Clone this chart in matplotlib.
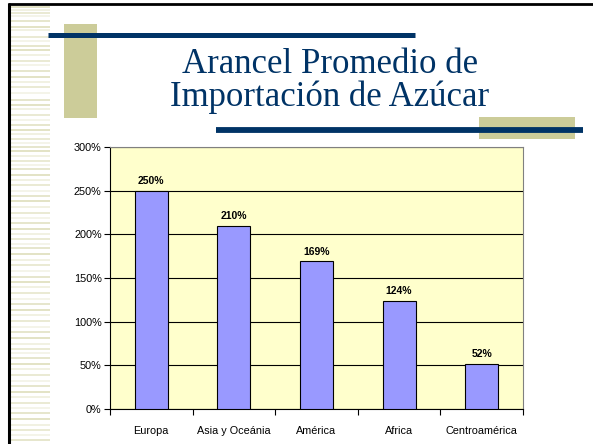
import matplotlib
matplotlib.use("Agg")
import matplotlib.pyplot as plt
from matplotlib.patches import Rectangle
from matplotlib.ticker import FuncFormatter, FixedLocator

# Datos
categorias = ["Europa", "Asia y Oceánia", "América", "Africa", "Centroamérica"]
aranceles = [250, 210, 169, 124, 52]
etiquetas = ["250%", "210%", "169%", "124%", "52%"]
titulo = "Arancel Promedio de\nImportación de Azúcar"

W, H = 593, 444
NAVY = "#003366"
OLIVE = "#CCCC99"

fig = plt.figure(figsize=(W / 100, H / 100), dpi=100)
fig.patch.set_facecolor("white")

# Decoración de la diapositiva (coordenadas en píxeles)
deco = fig.add_axes([0, 0, 1, 1])
deco.set_xlim(0, W)
deco.set_ylim(H, 0)
deco.axis("off")

# franja rayada a la izquierda
stripe_rows = [6, 9, 12, 15, 20, 26, 29, 36, 40, 45, 49, 54, 60, 64, 70, 76, 81, 86, 92, 99,
               104, 108, 114, 119, 124, 129, 133, 138, 142, 146, 150, 155, 160, 164, 168, 174,
               179, 184, 190, 195, 200, 206, 212, 217, 222, 228, 233, 238, 243, 247, 253, 259,
               264, 270, 276, 281, 286, 292, 298, 303, 309, 314, 320, 326, 331, 337, 343, 348,
               352, 357, 363, 368, 374, 380, 385, 391, 396, 402, 407, 412, 418, 424, 429, 434, 439]
for i, y in enumerate(stripe_rows):
    a = [0.8, 0.4, 0.6, 0.3, 0.7][i % 5]
    deco.add_patch(Rectangle((11, y), 39, 1.6, color="#DCDCB8", alpha=a, lw=0))

deco.plot([9, 9], [3, H], color="black", lw=2.2, solid_capstyle="butt")
deco.plot([8, W], [4, 4], color="black", lw=2.0, solid_capstyle="butt")

deco.add_patch(Rectangle((64, 24), 33, 94, color=OLIVE, lw=0))
deco.plot([48, 415], [35, 35], color=NAVY, lw=3.6, solid_capstyle="butt")
deco.add_patch(Rectangle((479, 117), 96, 22, color=OLIVE, lw=0))
deco.plot([216, 583], [130, 130], color=NAVY, lw=4.2, solid_capstyle="butt")

deco.text(330, 81, titulo, ha="center", va="center", fontsize=25,
          family="Liberation Serif", color=NAVY, linespacing=1.0)

# Gráfico de barras
ax = fig.add_axes([110 / W, 1 - 409 / H, 413 / W, 262 / H])
ax.set_facecolor("#FFFFCC")
x = range(len(categorias))
ax.bar(x, aranceles, width=0.4, color="#9999FF", edgecolor="black", linewidth=0.8, zorder=3)
for xi, v, t in zip(x, aranceles, etiquetas):
    ax.text(xi, v + 5, t, ha="center", va="bottom", fontsize=7.5, fontweight="bold",
            family="Liberation Sans")

ax.set_xlim(-0.5, len(categorias) - 0.5)
ax.set_ylim(0, 300)
ax.set_yticks(range(0, 301, 50))
ax.yaxis.set_major_formatter(FuncFormatter(lambda v, p: f"{int(v)}%"))
ax.yaxis.grid(True, color="black", lw=0.8, zorder=0)
ax.set_axisbelow(True)

ax.set_xticks(list(x))
ax.set_xticklabels(categorias)
ax.xaxis.set_minor_locator(FixedLocator([i - 0.5 for i in range(len(categorias) + 1)]))
ax.tick_params(axis="x", which="major", length=0, pad=12)
ax.tick_params(axis="x", which="minor", length=4, direction="out", width=0.8)
ax.tick_params(axis="y", length=4, direction="out", width=0.8, pad=2)
for lbl in ax.get_xticklabels() + ax.get_yticklabels():
    lbl.set_fontsize(7.8)
    lbl.set_family("Liberation Sans")

for s in ["top", "right"]:
    ax.spines[s].set_color("#808080")
    ax.spines[s].set_linewidth(0.8)
for s in ["left", "bottom"]:
    ax.spines[s].set_color("black")
    ax.spines[s].set_linewidth(0.8)

fig.savefig("out.png", dpi=100)
